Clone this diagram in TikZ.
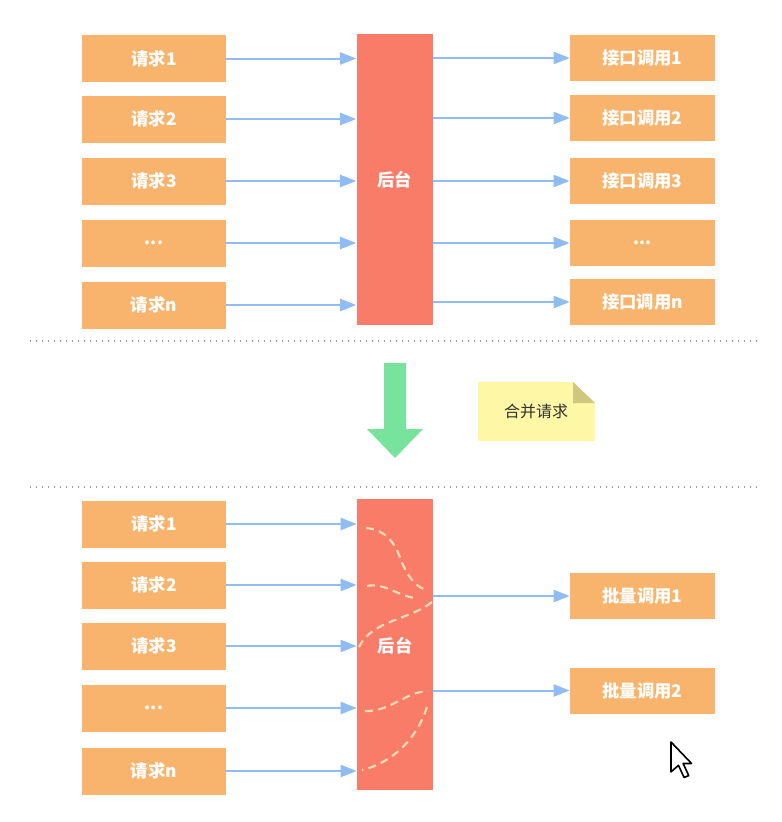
\documentclass[tikz,border=0pt]{standalone}
\usepackage{fontspec}
\setmainfont{Noto Sans CJK SC}
\usetikzlibrary{arrows.meta,calc}
\definecolor{boxor}{HTML}{F8B46C}
\definecolor{backred}{HTML}{F97C68}
\definecolor{arrblue}{HTML}{8FBCF3}
\definecolor{dashpeach}{HTML}{FDDDB5}
\definecolor{greenarr}{HTML}{77E39C}
\definecolor{noteyel}{HTML}{FDF7A6}
\definecolor{notefold}{HTML}{CFC680}
\definecolor{dotgray}{HTML}{9A9A9A}
\tikzset{
  lbl/.style={font=\fontsize{13}{15}\selectfont\bfseries},
  reqbox/.style={lbl, fill=boxor, text=white, minimum width=108pt, minimum height=35.25pt, inner sep=0pt},
  callbox/.style={lbl, fill=boxor, text=white, minimum width=108.75pt, minimum height=34.5pt, inner sep=0pt},
  backbox/.style={lbl, fill=backred, text=white, minimum width=57pt, minimum height=218.25pt, inner sep=0pt},
  arr/.style={draw=arrblue, line width=1.5pt, -{Triangle[length=12pt,width=9pt]}},
  sep/.style={draw=dotgray, line width=1.1pt, dash pattern=on 1.1pt off 3.4pt},
  flow/.style={draw=dashpeach, line width=1.6pt, dash pattern=on 6pt off 4pt},
}
\begin{document}
\begin{tikzpicture}[x=0.75pt,y=-0.75pt]
\useasboundingbox (0,0) rectangle (782,822);
% ---------- top part ----------
\node[backbox] (b1) at (394.5,179.5) {后台};
\node[reqbox] (a1) at (154,58.5) {请求1};
\node[reqbox] (a2) at (154,119) {请求2};
\node[reqbox] (a3) at (154,181) {请求3};
\node[reqbox] (a4) at (154,243) {...};
\node[reqbox] (a5) at (154,305) {请求n};
\node[callbox] (c1) at (642.5,58) {接口调用1};
\node[callbox] (c2) at (642.5,118) {接口调用2};
\node[callbox] (c3) at (642.5,181) {接口调用3};
\node[callbox] (c4) at (642.5,243) {...};
\node[callbox] (c5) at (642.5,302) {接口调用n};
\foreach \i in {1,...,5} {
  \draw[arr] (a\i.east) -- (a\i.east -| b1.west);
  \draw[arr] (c\i.west -| b1.east) -- (c\i.west);
}
% ---------- separators ----------
\coordinate (s1l) at (30,341);
\coordinate (s1r) at (757,341);
\coordinate (s2l) at (30,487);
\coordinate (s2r) at (757,487);
\draw[sep] (s1l) -- (s1r);
\draw[sep] (s2l) -- (s2r);
% ---------- green arrow ----------
\fill[greenarr] (384,363) -- (406,363) -- (406,429) -- (423,429) -- (395,458) -- (367,429) -- (384,429) -- cycle;
% ---------- note ----------
\fill[noteyel] (478,382) -- (573,382) -- (595,403) -- (595,441) -- (478,441) -- cycle;
\fill[notefold] (573,382) -- (595,403) -- (573,403) -- cycle;
\node[text=black!80, font=\fontsize{12}{14}\selectfont] (note) at (536,411) {合并请求};
% ---------- bottom part ----------
\node[backbox] (b2) at (395,644.5) {};
\draw[flow] (366,528) .. controls (395,530) and (400,560) .. (403,565) .. controls (410,580) and (418,588) .. (427,590);
\draw[flow] (367,586) .. controls (385,582) and (400,598) .. (418,598);
\draw[flow] (432,602) .. controls (410,620) and (372,620) .. (359,647);
\draw[flow] (365,711) .. controls (390,712) and (405,692) .. (428,691);
\draw[flow] (427,707) .. controls (415,745) and (385,765) .. (362,770);
\node[lbl, text=white] (bt) at (395,646) {后台};
\node[reqbox] (d1) at (154,524) {请求1};
\node[reqbox] (d2) at (154,585) {请求2};
\node[reqbox] (d3) at (154,646) {请求3};
\node[reqbox] (d4) at (154,708) {...};
\node[reqbox] (d5) at (154,771) {请求n};
\node[callbox] (e1) at (642.5,596) {批量调用1};
\node[callbox] (e2) at (642.5,690.5) {批量调用2};
\foreach \i in {1,...,5} {
  \draw[arr] (d\i.east) -- (d\i.east -| b2.west);
}
\draw[arr] (e1.west -| b2.east) -- (e1.west);
\draw[arr] (e2.west -| b2.east) -- (e2.west);
% ---------- mouse cursor ----------
\begin{scope}[shift={(671,742)}, x=1.4pt, y=-1.4pt]
\filldraw[fill=white, draw=black, line width=1.2pt, line join=round]
  (0,0) -- (0,16) -- (4,12.5) -- (7,19) -- (9.5,18) -- (6.5,11.5) -- (11,11.5) -- cycle;
\end{scope}
\end{tikzpicture}
\end{document}
